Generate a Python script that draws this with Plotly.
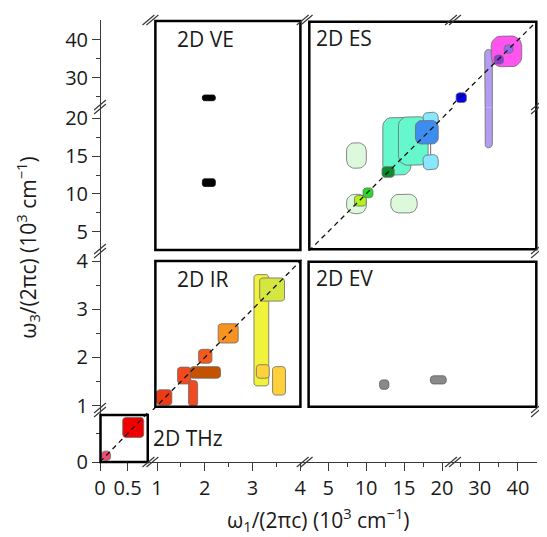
import numpy as np
import plotly.graph_objects as go

# ------------------------------------------------------------------
# DATA  (values in 10^3 cm^-1; each entry is one spectral feature box)
# ------------------------------------------------------------------
# 2D THz
thz_w1_min = [0.03, 0.41]
thz_w1_max = [0.19, 0.79]
thz_w3_min = [0.03, 0.43]
thz_w3_max = [0.19, 0.78]

# 2D IR
ir_w1_min = [1.43, 1.66, 1.69, 1.87, 2.28, 3.03, 3.15, 3.08, 3.42, 0.99]
ir_w1_max = [1.71, 1.85, 2.33, 2.15, 2.70, 3.34, 3.67, 3.35, 3.69, 1.31]
ir_w3_min = [1.45, 0.99, 1.57, 1.88, 2.30, 1.41, 3.17, 1.57, 1.22, 1.01]
ir_w3_max = [1.80, 1.52, 1.81, 2.17, 2.70, 3.72, 3.65, 1.85, 1.81, 1.33]

# 2D VE
ve_w1_min = [1.95, 1.95]
ve_w1_max = [2.22, 2.22]
ve_w3_min = [23.9, 11.0]
ve_w3_max = [25.4, 12.0]

# 2D ES
es_w1_min = [7.43, 7.43, 13.25, 12.2, 14.26, 17.5, 17.5, 16.5, 8.47, 9.6, 12.1, 31.3, 33.0, 33.8, 36.4, 23.8]
es_w1_max = [10.03, 10.03, 16.73, 15.9, 18.17, 19.5, 19.5, 19.5, 10.03, 10.9, 13.7, 33.3, 41.0, 36.2, 38.7, 26.5]
es_w3_min = [13.4, 7.4, 7.5, 12.5, 13.8, 13.2, 19.0, 16.6, 8.4, 9.5, 12.2, 16.1, 32.9, 33.6, 36.5, 23.4]
es_w3_max = [16.76, 9.96, 9.96, 20.1, 20.2, 15.2, 20.8, 19.7, 9.8, 10.8, 13.6, 37.5, 41.06, 36.0, 38.7, 26.0]
# connector between the two light-cyan features (w1, w3 start, w3 end)
es_link_w1 = [18.5]
es_link_w3 = [15.2, 19.0]

# 2D EV
ev_w1_min = [11.78, 18.47]
ev_w1_max = [13.0, 20.55]
ev_w3_min = [1.34, 1.45]
ev_w3_max = [1.535, 1.62]

# Axis segments (broken axes) and ticks
x_seg_ranges = [[0, 0.875], [0.82, 4.03], [1.52, 21.4], [22.9, 45.0]]
y_seg_ranges = [[0, 0.91], [0.91, 4.21], [2.46, 21.4], [22.04, 45.3]]
x_major = [[0, 0.5], [1, 2, 3, 4], [5, 10, 15, 20], [30, 40]]
x_major_text = [["0", "0.5"], ["1", "2", "3", "4"], ["5", "10", "15", "20"], ["30", "40"]]
x_minor = [[], [1.5, 2.5, 3.5], [7.5, 12.5, 17.5], [25, 35]]
y_major = [[0], [1, 2, 3, 4], [5, 10, 15, 20], [30, 40]]
y_major_text = [["0"], ["1", "2", "3", "4"], ["5", "10", "15", "20"], ["30", "40"]]
y_minor = [[0.5], [1.5, 2.5, 3.5], [7.5, 12.5, 17.5], [25, 35]]

# ------------------------------------------------------------------
# STYLES
# ------------------------------------------------------------------
thz_colors = ["#f04a72", "#f20000"]
ir_colors = ["#f24a1e", "#f04a22", "#c45200", "#f4591e", "#f7931e",
             "#f0f23c", "#d6e640", "#ffd23c", "#ffd03a", "#ee3a12"]
ve_colors = ["#000000", "#000000"]
es_colors = ["#dcf9dc", "#dcf9dc", "#dcf9dc", "#66f7cc", "#66f7cc",
             "#88e6ff", "#88e6ff", "#3d8cf0", "#b4f01e", "#22dd22",
             "#0b8a2e", "#b49cf0", "#ff55ee", "#8a3fd0", "#9966ee", "#0000ee"]
es_radius = [8, 8, 8, 9, 9, 5, 5, 6, 3, 3, 3, 4, 10, 3, 3, 3]
ev_colors = ["#8a8a8a", "#8a8a8a"]

# The page body has an 8px margin; the figure is sized/offset so that the
# plot area lands at screen pixels x 100..542, y 20..462.
OFF = 8
W, H = 539, 529
ML, MR, MT, MB = 92, 5, 12, 75
PW, PH = W - ML - MR, H - MT - MB
x_dom_px = [100, 149, 304, 456.7, 542]
y_dom_px = [462, 410, 251, 107.7, 20]


def px2x(p):
    return (p - OFF - ML) / PW


def py2y(p):
    return (MT + PH - (p - OFF)) / PH


x_domains = [[px2x(x_dom_px[i]), px2x(x_dom_px[i + 1])] for i in range(4)]
y_domains = [[py2y(y_dom_px[i]), py2y(y_dom_px[i + 1])] for i in range(4)]
x_scale = [(x_dom_px[i + 1] - x_dom_px[i]) / (x_seg_ranges[i][1] - x_seg_ranges[i][0]) for i in range(4)]
y_scale = [(y_dom_px[i] - y_dom_px[i + 1]) / (y_seg_ranges[i][1] - y_seg_ranges[i][0]) for i in range(4)]

AX_COLOR = "#3a3a3a"
FONT = "Open Sans"

fig = go.Figure()


def axname(kind, i):
    return kind if i == 0 else f"{kind}{i + 1}"


def rrect(x0, x1, y0, y1, rx, ry, n=7):
    rx = min(rx, (x1 - x0) / 2)
    ry = min(ry, (y1 - y0) / 2)
    xs, ys = [], []
    corners = [(x1 - rx, y1 - ry, 0, 90), (x0 + rx, y1 - ry, 90, 180),
               (x0 + rx, y0 + ry, 180, 270), (x1 - rx, y0 + ry, 270, 360)]
    for cx, cy, a0, a1 in corners:
        for t in np.linspace(np.radians(a0), np.radians(a1), n):
            xs.append(cx + rx * np.cos(t))
            ys.append(cy + ry * np.sin(t))
    xs.append(xs[0])
    ys.append(ys[0])
    return xs, ys


def overlaps(lo, hi, rng):
    return hi > rng[0] and lo < rng[1]


def add_boxes(x0s, x1s, y0s, y1s, colors, xsegs, ysegs, radius=None, outline="#6b6b6b"):
    for k in range(len(x0s)):
        r = 3 if radius is None else radius[k]
        for xi in xsegs:
            if not overlaps(x0s[k], x1s[k], x_seg_ranges[xi]):
                continue
            for yi in ysegs:
                if not overlaps(y0s[k], y1s[k], y_seg_ranges[yi]):
                    continue
                xs, ys = rrect(x0s[k], x1s[k], y0s[k], y1s[k], r / x_scale[xi], r / y_scale[yi])
                fig.add_trace(go.Scatter(
                    x=xs, y=ys, mode="lines", fill="toself", fillcolor=colors[k],
                    line=dict(color=outline, width=0.8),
                    xaxis=axname("x", xi), yaxis=axname("y", yi),
                    hoverinfo="skip", showlegend=False))


# THz panel
add_boxes(thz_w1_min, thz_w1_max, thz_w3_min, thz_w3_max, thz_colors, [0], [0])
# IR panel
add_boxes(ir_w1_min, ir_w1_max, ir_w3_min, ir_w3_max, ir_colors, [1], [1])
# VE panel
add_boxes(ve_w1_min, ve_w1_max, ve_w3_min, ve_w3_max, ve_colors, [1], [2, 3], radius=[2, 2], outline="#000000")
# ES panel (light cyan connector first, drawn under blue)
add_boxes(es_w1_min[:7], es_w1_max[:7], es_w3_min[:7], es_w3_max[:7], es_colors[:7], [2, 3], [2, 3], radius=es_radius[:7])
fig.add_trace(go.Scatter(x=[es_link_w1[0], es_link_w1[0]], y=es_link_w3, mode="lines",
                         line=dict(color="#6b6b6b", width=1), xaxis="x3", yaxis="y3",
                         hoverinfo="skip", showlegend=False))
add_boxes(es_w1_min[7:], es_w1_max[7:], es_w3_min[7:], es_w3_max[7:], es_colors[7:], [2, 3], [2, 3], radius=es_radius[7:])
# EV panel
add_boxes(ev_w1_min, ev_w1_max, ev_w3_min, ev_w3_max, ev_colors, [2, 3], [1], radius=[3, 3], outline="#5a5a5a")

# diagonal w1 = w3 (dashed) in every matching segment
for i in range(4):
    lo = max(x_seg_ranges[i][0], y_seg_ranges[i][0])
    hi = min(x_seg_ranges[i][1], y_seg_ranges[i][1])
    fig.add_trace(go.Scatter(x=[lo, hi], y=[lo, hi], mode="lines",
                             line=dict(color="#111111", width=1.3, dash="5px,4px"),
                             xaxis=axname("x", i), yaxis=axname("y", i),
                             hoverinfo="skip", showlegend=False))

# ------------------------------------------------------------------
# AXES
# ------------------------------------------------------------------
layout_axes = {}
tickfont = dict(family=FONT, size=20, color="#1a1a1a")
for i in range(4):
    common_x = dict(domain=x_domains[i], range=x_seg_ranges[i], anchor="free",
                    showline=True, linecolor=AX_COLOR, linewidth=1, ticks="outside",
                    ticklen=8, tickwidth=1, tickcolor=AX_COLOR,
                    tickmode="array", tickvals=x_major[i], ticktext=x_major_text[i],
                    minor=dict(tickmode="array", tickvals=x_minor[i], ticks="outside",
                               ticklen=4, tickwidth=1, tickcolor=AX_COLOR),
                    showgrid=False, zeroline=False, tickfont=tickfont, fixedrange=True)
    common_y = dict(domain=y_domains[i], range=y_seg_ranges[i], anchor="free",
                    showline=True, linecolor=AX_COLOR, linewidth=1, ticks="outside",
                    ticklen=8, tickwidth=1, tickcolor=AX_COLOR,
                    tickmode="array", tickvals=y_major[i], ticktext=y_major_text[i],
                    minor=dict(tickmode="array", tickvals=y_minor[i], ticks="outside",
                               ticklen=4, tickwidth=1, tickcolor=AX_COLOR),
                    showgrid=False, zeroline=False, tickfont=tickfont, fixedrange=True)
    layout_axes[axname("xaxis", i)] = dict(common_x, position=0, side="bottom")
    layout_axes[axname("yaxis", i)] = dict(common_y, position=0, side="left")
    layout_axes[f"xaxis{i + 5}"] = dict(common_x, position=1, side="top", showticklabels=False)
    layout_axes[f"yaxis{i + 5}"] = dict(common_y, position=1, side="right", showticklabels=False)

# ------------------------------------------------------------------
# PANEL FRAMES, BREAK MARKS, LABELS  (screen-pixel layout positions)
# ------------------------------------------------------------------
frames_px = [  # x0, x1, y_top, y_bottom
    (156, 302.7, 21, 250),      # VE
    (311.7, 541.3, 21.7, 249.3),  # ES
    (156, 302.7, 261, 406.7),   # IR
    (311, 541.3, 261.7, 406.7),  # EV
    (100.5, 148.3, 415, 462),   # THz
]
shapes = []
for x0, x1, yt, yb in frames_px:
    shapes.append(dict(type="rect", xref="paper", yref="paper",
                       x0=px2x(x0), x1=px2x(x1), y0=py2y(yb), y1=py2y(yt),
                       line=dict(color="#000000", width=2.5), fillcolor="rgba(0,0,0,0)",
                       layer="above"))


def slash(cx, cy):
    return dict(type="line", xref="paper", yref="paper",
                x0=px2x(cx - 6), y0=py2y(cy + 5), x1=px2x(cx + 6), y1=py2y(cy - 5),
                line=dict(color=AX_COLOR, width=1.2), layer="above")


x_breaks_px = [151, 307, 457]
y_breaks_px = [410, 251, 107]
for bx in x_breaks_px:
    for by in (462, 20):
        shapes.append(slash(bx - 2, by))
        shapes.append(slash(bx + 2, by))
for by in y_breaks_px:
    for bx in (100, 542):
        shapes.append(slash(bx, by - 2))
        shapes.append(slash(bx, by + 2))

panel_labels = [("2D VE", 176, 39.3), ("2D ES", 316, 38.3), ("2D IR", 176, 279.3),
                ("2D EV", 316, 278.3), ("2D THz", 152, 438.3)]
annotations = []
for txt, lx, ly in panel_labels:
    annotations.append(dict(text=txt, x=px2x(lx), y=py2y(ly), xref="paper", yref="paper",
                            xanchor="left", yanchor="middle", showarrow=False,
                            font=dict(family=FONT, size=21, color="#1a1a1a")))
annotations.append(dict(text="ω<sub>1</sub>/(2πc) (10<sup>3</sup> cm<sup>−1</sup>)",
                        x=px2x(321), y=py2y(519), xref="paper", yref="paper",
                        xanchor="center", yanchor="middle", showarrow=False,
                        font=dict(family=FONT, size=21, color="#1a1a1a")))
annotations.append(dict(text="ω<sub>3</sub>/(2πc) (10<sup>3</sup> cm<sup>−1</sup>)",
                        x=px2x(27), y=py2y(247), xref="paper", yref="paper",
                        xanchor="center", yanchor="middle", showarrow=False, textangle=-90,
                        font=dict(family=FONT, size=21, color="#1a1a1a")))

fig.update_layout(
    width=W, height=H,
    margin=dict(l=ML, r=MR, t=MT, b=MB),
    paper_bgcolor="white", plot_bgcolor="white",
    showlegend=False,
    shapes=shapes, annotations=annotations,
    **layout_axes,
)

fig.write_html("out.html")
